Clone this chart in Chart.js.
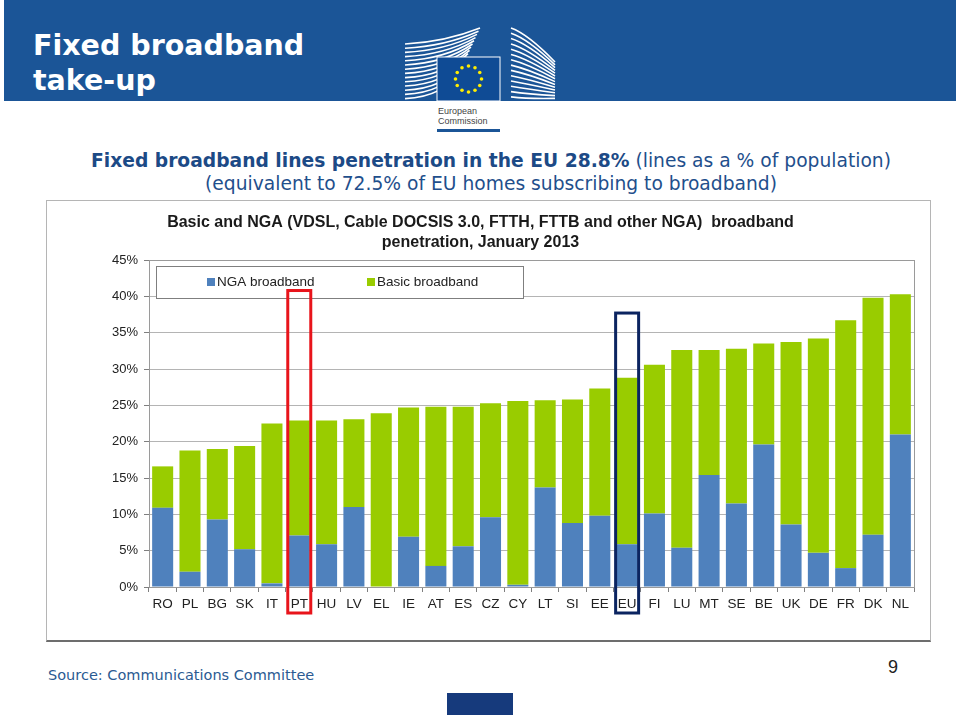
<!DOCTYPE html>
<html>
<head>
<meta charset="utf-8">
<script src="https://cdn.jsdelivr.net/npm/chart.js@4/dist/chart.umd.min.js"></script>
<style>
  html, body { margin: 0; padding: 0; background: #fff; }
  body { width: 960px; height: 716px; position: relative; overflow: hidden; }
  .band { position: absolute; left: 4px; top: 0; width: 952px; height: 101px; background: #1b5597; }
  .band h1 { position: absolute; left: 29px; top: 28px; margin: 0; color: #fff;
    font: bold 28.5px/35px "DejaVu Sans", Verdana, sans-serif; }
  .logo { position: absolute; left: 400px; top: 20px; }
  .sub { position: absolute; left: 0; top: 149px; width: 982px; text-align: center; color: #1f4f8c;
    font: 18.7px/23px "DejaVu Sans", Verdana, sans-serif; }
  .sub b { color: #1c4a86; }
  .frame { position: absolute; left: 46px; top: 200px; width: 883px; height: 439px;
    border: 1px solid #b5b5b5; border-bottom: 2px solid #6d6d6d; }
  .frame canvas { position: absolute; left: 0; top: 0; }
  .src { position: absolute; left: 48px; top: 667px; color: #2b5a92;
    font: 14.5px "DejaVu Sans", Verdana, sans-serif; }
  .page { position: absolute; left: 888px; top: 657px; font: 18px "Liberation Sans", Arial, sans-serif; color: #222; }
  .foot { position: absolute; left: 447px; top: 693px; width: 66px; height: 22px; background: #163a7c; }
</style>
</head>
<body>
<div class="band"><h1>Fixed broadband<br>take-up</h1></div>
<svg class="logo" width="160" height="115" viewBox="0 0 160 115">
  <g fill="none" stroke="#fff" stroke-width="1.6" id="wings"></g>
  <rect x="36.5" y="36.5" width="64" height="45" fill="#fff"/>
  <rect x="37.5" y="37.5" width="62" height="43" fill="#0f4b95"/>
  <g fill="#ffed00" id="stars"></g>
  <text x="38" y="94" font-family="Liberation Sans, Arial" font-size="9" fill="#444">European</text>
  <text x="38" y="104" font-family="Liberation Sans, Arial" font-size="9" fill="#444">Commission</text>
  <rect x="37" y="109" width="63" height="3" fill="#1b5597"/>
</svg>
<div class="sub"><b>Fixed broadband lines penetration in the EU 28.8%</b> (lines as a % of population)<br>(equivalent to 72.5% of EU homes subscribing to broadband)</div>
<div class="frame"><canvas id="c" width="883" height="439"></canvas></div>
<div class="src">Source: Communications Committee</div>
<div class="page">9</div>
<div class="foot"></div>
<script>
// --- data ---
var countries = ['RO','PL','BG','SK','IT','PT','HU','LV','EL','IE','AT','ES','CZ','CY','LT','SI','EE','EU','FI','LU','MT','SE','BE','UK','DE','FR','DK','NL'];
var ngaValues = [10.9, 2.1, 9.3, 5.2, 0.5, 7.1, 5.9, 11.0, 0.0, 6.9, 2.9, 5.6, 9.6, 0.3, 13.7, 8.8, 9.8, 5.9, 10.1, 5.4, 15.4, 11.5, 19.6, 8.6, 4.7, 2.6, 7.2, 21.0];
var basicValues = [5.7, 16.7, 9.7, 14.2, 22.0, 15.8, 17.0, 12.1, 23.9, 17.8, 21.9, 19.2, 15.7, 25.3, 12.0, 17.0, 17.5, 22.9, 20.5, 27.2, 17.2, 21.3, 13.9, 25.1, 29.5, 34.1, 32.6, 19.3];
var seriesNames = ['NGA broadband', 'Basic broadband'];
var yMax = 45, yStep = 5;
// highlighted categories (outline boxes on the slide)
var highlights = [{ cat: 'PT', top: 40.8, color: '#e8141b' }, { cat: 'EU', top: 37.7, color: '#0b2460' }];

// logo: building stripes + star ring
(function () {
  var ns = 'http://www.w3.org/2000/svg', w = document.getElementById('wings'), s = document.getElementById('stars');
  function path(d) { var p = document.createElementNS(ns, 'path'); p.setAttribute('d', d); w.appendChild(p); }
  for (var k = 0; k < 14; k++) {
    var y0 = 24 + k * 4.2;
    path('M5,' + y0 + ' Q45,' + (y0 - 2) + ' ' + (80 - k * 1.5) + ',' + (8 + k * 3.2));
    path('M111,' + (8 + k * 5.3) + ' Q128,' + (14 + k * 5) + ' 155,' + (42 + k * 2.8));
  }
  for (var i = 0; i < 12; i++) {
    var a = i * Math.PI / 6, c = document.createElementNS(ns, 'circle');
    c.setAttribute('cx', 68.5 + 13 * Math.cos(a)); c.setAttribute('cy', 59 + 13 * Math.sin(a)); c.setAttribute('r', 1.8);
    s.appendChild(c);
  }
})();

var CH_FONT = '"Liberation Sans", Arial, sans-serif';

// legend drawn inside the plot area, boxed
var boxLegend = {
  id: 'boxLegend',
  afterDraw: function (chart) {
    var ctx = chart.ctx, a = chart.chartArea;
    var bx = a.left + 7, by = a.top + 6, bw = 367, bh = 32;
    ctx.save();
    ctx.fillStyle = '#fff'; ctx.fillRect(bx, by, bw, bh);
    ctx.strokeStyle = '#7f7f7f'; ctx.lineWidth = 1; ctx.strokeRect(bx + 0.5, by + 0.5, bw, bh);
    ctx.font = '13.5px ' + CH_FONT; ctx.textBaseline = 'middle'; ctx.fillStyle = '#222';
    chart.data.datasets.forEach(function (ds, i) {
      var x = bx + 51 + i * 160, y = by + bh / 2;
      ctx.fillStyle = ds.backgroundColor; ctx.fillRect(x, y - 4, 8, 8);
      ctx.fillStyle = '#222'; ctx.fillText(ds.label, x + 10, y + 0.5);
    });
    // highlight boxes
    var xs = chart.scales.x, ys = chart.scales.y;
    highlights.forEach(function (h) {
      var cx = xs.getPixelForValue(countries.indexOf(h.cat));
      var top = ys.getPixelForValue(h.top), bottom = a.bottom + 26;
      ctx.strokeStyle = h.color; ctx.lineWidth = 3;
      ctx.strokeRect(cx - 11.5, top, 23, bottom - top);
    });
    ctx.restore();
  },
  beforeDatasetsDraw: function (chart) {
    var ctx = chart.ctx, a = chart.chartArea;
    ctx.save(); ctx.strokeStyle = '#9a9a9a'; ctx.lineWidth = 1;
    ctx.strokeRect(Math.round(a.left) + 0.5, Math.round(a.top) + 0.5, Math.round(a.right - a.left), Math.round(a.bottom - a.top));
    ctx.restore();
  }
};

new Chart(document.getElementById('c'), {
  type: 'bar',
  data: {
    labels: countries,
    datasets: [
      { label: seriesNames[0], data: ngaValues, backgroundColor: '#4f81bd' },
      { label: seriesNames[1], data: basicValues, backgroundColor: '#99cc00' }
    ]
  },
  options: {
    responsive: false,
    animation: false,
    categoryPercentage: 0.77,
    barPercentage: 1,
    layout: { padding: { left: 0, right: 16, top: 0, bottom: 0 } },
    plugins: {
      legend: { display: false },
      tooltip: { enabled: false },
      title: {
        display: true,
        text: ['Basic and NGA (VDSL, Cable DOCSIS 3.0, FTTH, FTTB and other NGA)  broadband', 'penetration, January 2013'],
        color: '#1a1a1a',
        font: { family: CH_FONT, size: 16, weight: 'bold', lineHeight: 1.25 },
        padding: { top: 12, bottom: 7 }
      }
    },
    scales: {
      x: {
        stacked: true,
        afterFit: function (s) { s.height = 53; },
        grid: { offset: true, drawOnChartArea: false, drawTicks: true, tickLength: 5, color: '#7f7f7f' },
        border: { color: '#7f7f7f' },
        ticks: { color: '#222', padding: 4, font: { family: CH_FONT, size: 13.5 }, maxRotation: 0, autoSkip: false }
      },
      y: {
        stacked: true,
        min: 0, max: yMax,
        afterFit: function (s) { s.width = 102; },
        grid: { color: '#b4b4b4', tickLength: 5, tickColor: '#7f7f7f' },
        border: { color: '#7f7f7f' },
        ticks: { stepSize: yStep, color: '#222', padding: 6, font: { family: CH_FONT, size: 13 },
          callback: function (v) { return v + '%'; } }
      }
    }
  },
  plugins: [boxLegend]
});
</script>
</body>
</html>
